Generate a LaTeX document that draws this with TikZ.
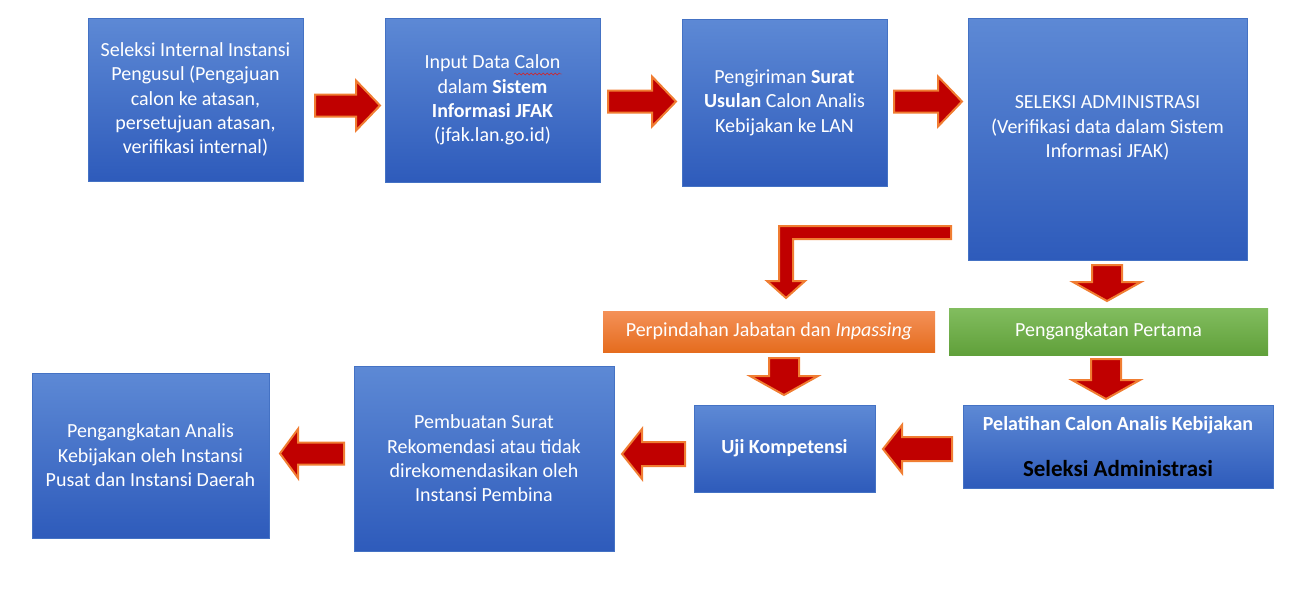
\documentclass[tikz,border=0pt]{standalone}
\usepackage{fontspec}
\setmainfont{Carlito}
\usetikzlibrary{decorations.pathmorphing}
\definecolor{spellred}{RGB}{220,30,30}
\definecolor{boxtop}{RGB}{93,137,213}
\definecolor{boxbottom}{RGB}{46,91,187}
\definecolor{boxline}{RGB}{68,114,196}
\definecolor{orangetop}{RGB}{244,145,88}
\definecolor{orangebottom}{RGB}{229,108,30}
\definecolor{greentop}{RGB}{130,189,95}
\definecolor{greenbottom}{RGB}{96,160,58}
\definecolor{arrowred}{RGB}{192,0,0}
\definecolor{arrowline}{RGB}{240,125,50}
\begin{document}
\begin{tikzpicture}[
   x=1pt,y=-1pt,
   font=\fontsize{20}{24.4}\selectfont,
   box/.style={draw=boxline,semithick,top color=boxtop,bottom color=boxbottom,
     text=white,align=center,inner sep=2pt},
   bar/.style={draw=none,text=white,align=center,inner sep=2pt,font=\fontsize{20}{24}\selectfont},
   pics/blkarrow/.style n args={4}{code={
     \draw[fill=arrowred,draw=arrowline,line width=2pt,line join=miter]
       ({-#1/2},{-#4}) -- ({#1/2-#2},{-#4}) -- ({#1/2-#2},{-#3}) -- ({#1/2},0)
       -- ({#1/2-#2},{#3}) -- ({#1/2-#2},{#4}) -- ({-#1/2},{#4}) -- cycle;
   }}]
\useasboundingbox (0,0) rectangle (1310,590);
% top row
\node[box,minimum width=215,minimum height=163] (seleksi) at (195.5,99.5)
  {Seleksi Internal Instansi\\Pengusul (Pengajuan\\calon ke atasan,\\persetujuan atasan,\\verifikasi internal)};
\node[box,minimum width=215,minimum height=164] (input) at (492.5,100)
  {Input Data Calon\\dalam \textbf{Sistem}\\\textbf{Informasi JFAK}\\(jfak.lan.go.id)};
\node[box,minimum width=205,minimum height=167] (kirim) at (784.5,102.5)
  {Pengiriman \textbf{Surat}\\\textbf{Usulan} Calon Analis\\Kebijakan ke LAN};
\node[box,minimum width=279,minimum height=242] (admin) at (1107.5,139)
  {SELEKSI ADMINISTRASI\\(Verifikasi data dalam Sistem\\Informasi JFAK)\\~};
% spelling wave under the word Calon
\draw[spellred,decorate,decoration={snake,amplitude=1pt,segment length=4pt}]
  (514,74) -- (562,74);
% middle bars
\node[bar,top color=orangetop,bottom color=orangebottom,minimum width=332,minimum height=41] (pindah) at (769,331.5)
  {Perpindahan Jabatan dan \textit{Inpassing}};
\node[bar,top color=greentop,bottom color=greenbottom,minimum width=319,minimum height=47] (angkat) at (1108.5,331.5)
  {Pengangkatan Pertama};
% bottom row
\node[box,minimum width=310,minimum height=83] (latih) at (1118,446.5)
  {\textbf{Pelatihan Calon Analis Kebijakan}\\[21pt]{\color{black}\fontsize{23}{27}\selectfont\textbf{Seleksi Administrasi}}};
\node[box,minimum width=181,minimum height=87] (uji) at (784.5,448.5)
  {\textbf{Uji Kompetensi}};
\node[box,minimum width=260,minimum height=185] (rekom) at (484,458.5)
  {Pembuatan Surat\\Rekomendasi atau tidak\\direkomendasikan oleh\\Instansi Pembina};
\node[box,minimum width=237,minimum height=165] (analis) at (150.5,455.5)
  {Pengangkatan Analis\\Kebijakan oleh Instansi\\Pusat dan Instansi Daerah};
% block arrows
\pic at (347.5,105.5) {blkarrow={65}{24}{25}{11}};
\pic at (642,101.5) {blkarrow={68}{24}{25}{11}};
\pic at (928,101.5) {blkarrow={68}{24}{25}{11}};
\pic[rotate=-90] at (1107,283) {blkarrow={36}{19}{34}{15}};
\pic[rotate=-90] at (784,376.5) {blkarrow={37}{19}{34}{15}};
\pic[rotate=-90] at (1106,379) {blkarrow={40}{19}{34}{15}};
\pic[rotate=180] at (917.5,449) {blkarrow={69}{19}{24}{12}};
\pic[rotate=180] at (653.5,454) {blkarrow={63}{20}{25}{12}};
\pic[rotate=180] at (312,453.5) {blkarrow={64}{18}{24.5}{11}};
% bent arrow to the transfer route
\draw[fill=arrowred,draw=arrowline,line width=2pt,line join=miter]
  (951,226) -- (779,226) -- (779,281) -- (767,281) -- (786,298) -- (805,281)
  -- (793,281) -- (793,239) -- (951,239) -- cycle;
\end{tikzpicture}
\end{document}
